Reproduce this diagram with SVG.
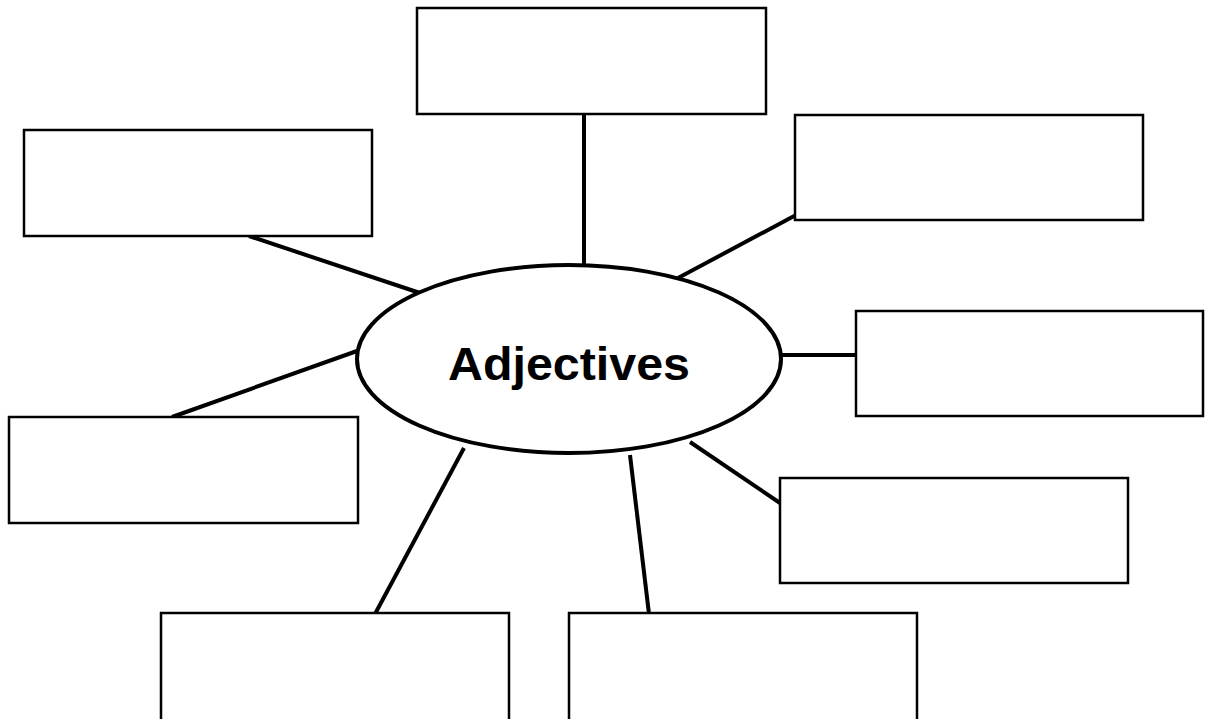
<svg xmlns="http://www.w3.org/2000/svg" width="1212" height="719" viewBox="0 0 1212 719">
<style>
.box{fill:#fff;stroke:#000;stroke-width:2.5}
.con{stroke:#000;stroke-width:4;fill:none}
.lbl{font-family:"Liberation Sans",Arial,sans-serif;font-weight:bold;font-size:46px;fill:#000}
</style>
<rect width="1212" height="719" fill="#fff"/>
<g id="connectors">
<line class="con" x1="584" y1="114" x2="584" y2="266"/>
<line class="con" x1="249" y1="236" x2="420" y2="293"/>
<line class="con" x1="796" y1="215" x2="678" y2="278"/>
<line class="con" x1="781" y1="355" x2="857" y2="355"/>
<line class="con" x1="357" y1="351" x2="172" y2="417"/>
<line class="con" x1="690" y1="442" x2="780" y2="503"/>
<line class="con" x1="464" y1="448" x2="375" y2="614"/>
<line class="con" x1="630" y1="455" x2="649" y2="614"/>
</g>
<g id="center">
<ellipse cx="569" cy="359" rx="212" ry="94" fill="#fff" stroke="#000" stroke-width="4"/>
<text class="lbl" x="569" y="380" text-anchor="middle" textLength="242" lengthAdjust="spacingAndGlyphs">Adjectives</text>
</g>
<g id="box-top"><rect class="box" x="417" y="8" width="349" height="106"/></g>
<g id="box-upper-left"><rect class="box" x="24" y="130" width="348" height="106"/></g>
<g id="box-upper-right"><rect class="box" x="795" y="115" width="348" height="105"/></g>
<g id="box-right"><rect class="box" x="856" y="311" width="347" height="105"/></g>
<g id="box-lower-right"><rect class="box" x="780" y="478" width="348" height="105"/></g>
<g id="box-lower-left"><rect class="box" x="9" y="417" width="349" height="106"/></g>
<g id="box-bottom-left"><rect class="box" x="161" y="613" width="348" height="110"/></g>
<g id="box-bottom-right"><rect class="box" x="569" y="613" width="348" height="110"/></g>
</svg>
